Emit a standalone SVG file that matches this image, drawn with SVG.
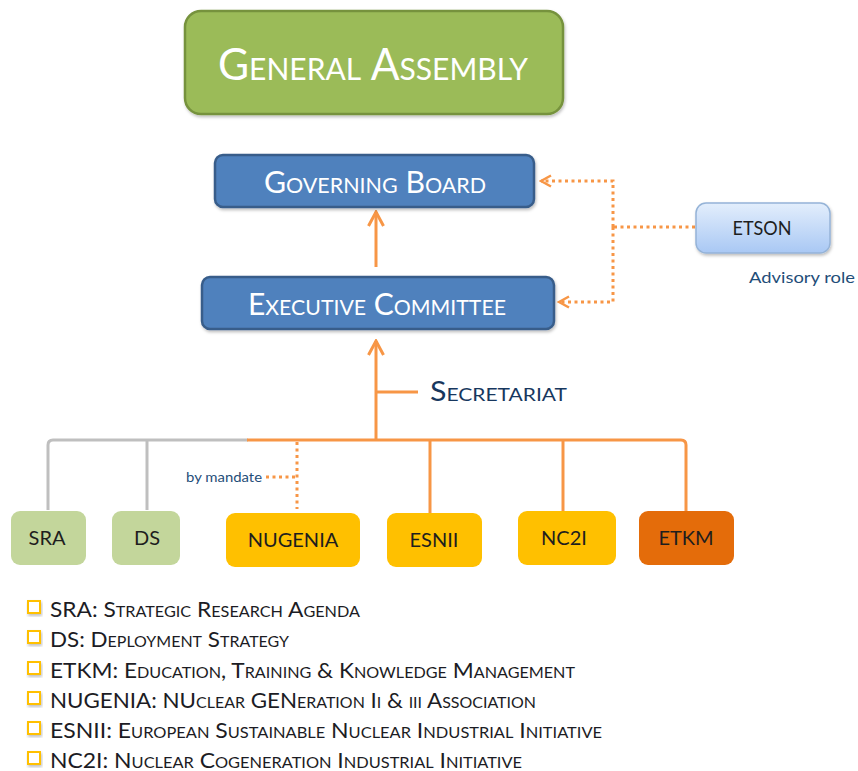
<svg xmlns="http://www.w3.org/2000/svg" width="858" height="771" viewBox="0 0 858 771">
<defs>
<style>
.sc{font-family:Lato,"Open Sans","Liberation Sans",sans-serif;font-variant:small-caps}
.wt{fill:#ffffff}
.nodeT{font-family:Lato,"Liberation Sans",sans-serif;font-size:20px;fill:#1e1e1e;text-anchor:middle}
.leg{font-family:Lato,"Open Sans","Liberation Sans",sans-serif;font-variant:small-caps;font-size:21px;fill:#1c1c24}
.orange{fill:none;stroke:#f79646;stroke-width:3}
.gray{fill:none;stroke:#bfbfbf;stroke-width:3}
.dot{fill:none;stroke:#f79646;stroke-width:3;stroke-dasharray:3 3.5}
.bul{fill:#ffffff;stroke:#ffc000;stroke-width:2}
</style>
<linearGradient id="etsonG" x1="0" y1="0" x2="0" y2="1">
<stop offset="0" stop-color="#e3eefc"/>
<stop offset="1" stop-color="#a9c8f4"/>
</linearGradient>
<marker id="arrSolid" viewBox="0 0 18 18" refX="16" refY="9" markerWidth="18" markerHeight="18" markerUnits="userSpaceOnUse" orient="auto">
<path d="M2,1.5 L16,9 L2,16.5" fill="none" stroke="#f79646" stroke-width="3" stroke-linejoin="miter"/>
</marker>
<marker id="arrDot" viewBox="0 0 14 14" refX="12" refY="7" markerWidth="14" markerHeight="14" markerUnits="userSpaceOnUse" orient="auto">
<path d="M2,1.5 L12,7 L2,12.5" fill="none" stroke="#f79646" stroke-width="2.5"/>
</marker>
<filter id="sh" x="-10%" y="-10%" width="130%" height="140%">
<feDropShadow dx="1" dy="2" stdDeviation="1.5" flood-color="#000" flood-opacity="0.25"/>
</filter>
</defs>
<rect width="858" height="771" fill="#ffffff"/>

<g id="connectors">
<path class="orange" d="M376,267 V212" marker-end="url(#arrSolid)"/>
<path class="orange" d="M376,440 V341" marker-end="url(#arrSolid)"/>
<path class="orange" d="M376,392 H418"/>
<path class="gray" d="M48,510 V445 Q48,440 53,440 H248"/>
<path class="gray" d="M147,440 V510"/>
<path class="orange" d="M247,440 H681 Q686,440 686,445 V511"/>
<path class="orange" d="M430,440 V513"/>
<path class="orange" d="M563,440 V511"/>
<path class="dot" d="M297,442 V509"/>
<path class="dot" d="M266,477 H297"/>
<path class="dot" d="M695,227 H613"/>
<path class="dot" d="M613,227 V181 H541" marker-end="url(#arrDot)"/>
<path class="dot" d="M613,227 V302 H559" marker-end="url(#arrDot)"/>
</g>

<g id="general-assembly">
<rect x="185" y="11" width="378" height="103" rx="16" fill="#9bbb59" stroke="#76923c" stroke-width="2.5" filter="url(#sh)"/>
<text class="sc wt" x="218" y="80" font-size="44" textLength="310" lengthAdjust="spacingAndGlyphs">General Assembly</text>
</g>

<g id="governing-board">
<rect x="215" y="155" width="319" height="52" rx="8" fill="#4f81bd" stroke="#385d8a" stroke-width="2.5" filter="url(#sh)"/>
<text class="sc wt" x="264" y="193" font-size="31" textLength="222" lengthAdjust="spacingAndGlyphs">Governing Board</text>
</g>

<g id="executive-committee">
<rect x="202" y="277" width="352" height="52" rx="8" fill="#4f81bd" stroke="#385d8a" stroke-width="2.5" filter="url(#sh)"/>
<text class="sc wt" x="248" y="315" font-size="31" textLength="258" lengthAdjust="spacingAndGlyphs">Executive Committee</text>
</g>

<g id="etson">
<rect x="696" y="203" width="134" height="50" rx="10" fill="url(#etsonG)" stroke="#95b3d7" stroke-width="1.5" filter="url(#sh)"/>
<text class="nodeT" x="762" y="235" textLength="59" lengthAdjust="spacingAndGlyphs" fill="#1a1a2a">ETSON</text>
<text x="749" y="283" font-family="Lato,'Liberation Sans',sans-serif" font-size="16" fill="#1f4e79" textLength="106" lengthAdjust="spacingAndGlyphs">Advisory role</text>
</g>

<g id="secretariat">
<text class="sc" x="430" y="401" font-size="26" fill="#17375e" textLength="137" lengthAdjust="spacingAndGlyphs">Secretariat</text>
</g>

<g id="by-mandate">
<text x="186" y="482" font-family="Lato,'Liberation Sans',sans-serif" font-size="13" fill="#1f4e79" textLength="76" lengthAdjust="spacingAndGlyphs">by mandate</text>
</g>

<g id="sra">
<rect x="11" y="511" width="75" height="54" rx="9" fill="#c3d69b"/>
<text class="nodeT" x="47" y="545">SRA</text>
</g>
<g id="ds">
<rect x="112" y="511" width="68" height="54" rx="9" fill="#c3d69b"/>
<text class="nodeT" x="147" y="545">DS</text>
</g>
<g id="nugenia">
<rect x="226" y="513" width="134" height="54" rx="9" fill="#ffc000"/>
<text class="nodeT" x="293" y="547">NUGENIA</text>
</g>
<g id="esnii">
<rect x="387" y="513" width="95" height="54" rx="9" fill="#ffc000"/>
<text class="nodeT" x="434" y="547">ESNII</text>
</g>
<g id="nc2i">
<rect x="518" y="511" width="98" height="54" rx="9" fill="#ffc000"/>
<text class="nodeT" x="564" y="545">NC2I</text>
</g>
<g id="etkm">
<rect x="639" y="511" width="95" height="54" rx="9" fill="#e46c0a"/>
<text class="nodeT" x="686" y="545">ETKM</text>
</g>

<g id="legend">
<rect class="bul" x="28" y="601" width="12" height="12" filter="url(#sh)"/>
<rect class="bul" x="28" y="631" width="12" height="12" filter="url(#sh)"/>
<rect class="bul" x="28" y="662" width="12" height="12" filter="url(#sh)"/>
<rect class="bul" x="28" y="692" width="12" height="12" filter="url(#sh)"/>
<rect class="bul" x="28" y="722" width="12" height="12" filter="url(#sh)"/>
<rect class="bul" x="28" y="752" width="12" height="12" filter="url(#sh)"/>
<text class="leg" x="50" y="617" textLength="310" lengthAdjust="spacingAndGlyphs">SRA: Strategic Research Agenda</text>
<text class="leg" x="50" y="647" textLength="239" lengthAdjust="spacingAndGlyphs">DS: Deployment Strategy</text>
<text class="leg" x="50" y="678" textLength="525" lengthAdjust="spacingAndGlyphs">ETKM: Education, Training &amp; Knowledge Management</text>
<text class="leg" x="50" y="708" textLength="486" lengthAdjust="spacingAndGlyphs">NUGENIA: NUclear GENeration Ii &amp; iii Association</text>
<text class="leg" x="50" y="738" textLength="552" lengthAdjust="spacingAndGlyphs">ESNII: European Sustainable Nuclear Industrial Initiative</text>
<text class="leg" x="50" y="768" textLength="472" lengthAdjust="spacingAndGlyphs">NC2I: Nuclear Cogeneration  Industrial Initiative</text>
</g>
</svg>
